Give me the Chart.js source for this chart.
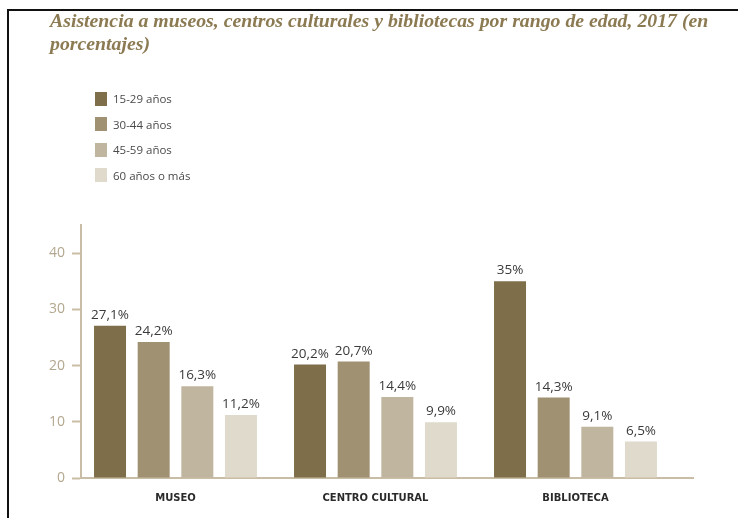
<!DOCTYPE html>
<html>
<head>
<meta charset="utf-8">
<script src="https://cdn.jsdelivr.net/npm/chart.js@4"></script>
<style>
  html, body { margin: 0; padding: 0; background: #ffffff; }
  #wrap { position: relative; width: 738px; height: 518px; overflow: hidden; }
  #frame { position: absolute; left: 7px; top: 9px; width: 760px; height: 540px;
           border-top: 2px solid #111; border-left: 2px solid #111; box-sizing: border-box; }
  #title { position: absolute; left: 50px; top: 9px; width: 685px;
           font-family: "Liberation Serif", serif; font-style: italic; font-weight: bold;
           font-size: 19.8px; line-height: 23px; color: #8b7a52; }
  #legend { position: absolute; left: 95px; top: 86px; font-family: "Open Sans", sans-serif;
            font-size: 11.5px; color: #4a4a4a; }
  .item { display: flex; align-items: center; height: 25.5px; }
  .sw { width: 12px; height: 14px; margin-right: 6px; }
  canvas { position: absolute; left: 0; top: 0; }
</style>
</head>
<body>
<div id="wrap">
  <canvas id="c" width="738" height="518"></canvas>
  <div id="frame"></div>
  <div id="title">Asistencia a museos, centros culturales y bibliotecas por rango de edad, 2017 (en porcentajes)</div>
  <div id="legend"></div>
</div>
<script>
const categories = ["MUSEO", "CENTRO CULTURAL", "BIBLIOTECA"];
const seriesNames = ["15-29 años", "30-44 años", "45-59 años", "60 años o más"];
const age15to29 = [27.1, 20.2, 35];
const age30to44 = [24.2, 20.7, 14.3];
const age45to59 = [16.3, 14.4, 9.1];
const age60plus = [11.2, 9.9, 6.5];
const yTicks = [0, 10, 20, 30, 40];
const colors = ["#7f6e4a", "#a09172", "#c0b59f", "#dfdacc"];

const seriesValues = [age15to29, age30to44, age45to59, age60plus];

// HTML legend built from series names/colors
const legendEl = document.getElementById('legend');
seriesNames.forEach((n, i) => {
  const it = document.createElement('div');
  it.className = 'item';
  const sw = document.createElement('div');
  sw.className = 'sw';
  sw.style.background = colors[i];
  const tx = document.createElement('span');
  tx.textContent = n;
  it.appendChild(sw); it.appendChild(tx);
  legendEl.appendChild(it);
});

const fmt = v => String(v).replace('.', ',') + '%';

const labelPlugin = {
  id: 'barLabels',
  afterDatasetsDraw(chart) {
    const ctx = chart.ctx;
    ctx.save();
    ctx.font = '13.5px "Open Sans", sans-serif';
    ctx.fillStyle = '#3a3a3a';
    ctx.textAlign = 'center';
    ctx.textBaseline = 'bottom';
    chart.data.datasets.forEach((ds, di) => {
      const meta = chart.getDatasetMeta(di);
      meta.data.forEach((el, i) => {
        ctx.fillText(fmt(ds.data[i].y), el.x, el.y - 4);
      });
    });
    ctx.restore();
  }
};

const tan = '#c9bda6';

new Chart(document.getElementById('c'), {
  type: 'bar',
  data: {
    datasets: seriesNames.map((n, i) => ({
      label: n,
      data: seriesValues[i].map((v, k) => ({ x: k, y: v })),
      backgroundColor: colors[i],
      borderWidth: 0,
      categoryPercentage: 0.873,
      barPercentage: 0.733
    }))
  },
  options: {
    responsive: false,
    animation: false,
    events: [],
    layout: { padding: { top: 225, right: 45, bottom: 0, left: 0 } },
    plugins: {
      legend: { display: false },
      title: { display: false },
      tooltip: { enabled: false }
    },
    scales: {
      x: {
        type: 'linear',
        offset: false,
        min: -0.4725,
        max: 2.5875,
        afterFit(s) { s.height = 40; },
        afterBuildTicks(s) { s.ticks = categories.map((c, k) => ({ value: k })); },
        grid: { display: false, drawTicks: false },
        border: { display: true, color: tan, width: 2 },
        ticks: {
          autoSkip: false,
          maxRotation: 0,
          padding: 14,
          color: '#2a2a2a',
          font: { family: '"DejaVu Sans", sans-serif', size: 10, weight: 'bold' },
          callback: (v) => categories[v] !== undefined ? categories[v] : ''
        }
      },
      y: {
        min: 0,
        max: 45,
        afterFit(s) { s.width = 81; },
        afterBuildTicks(s) { s.ticks = yTicks.map(v => ({ value: v })); },
        grid: { drawOnChartArea: false, drawTicks: true, tickLength: 9, tickWidth: 2, tickColor: tan },
        border: { display: true, color: tan, width: 2 },
        ticks: {
          padding: 7,
          color: '#b3a78f',
          font: { family: '"Open Sans", sans-serif', size: 14 }
        }
      }
    }
  },
  plugins: [labelPlugin]
});
</script>
</body>
</html>
